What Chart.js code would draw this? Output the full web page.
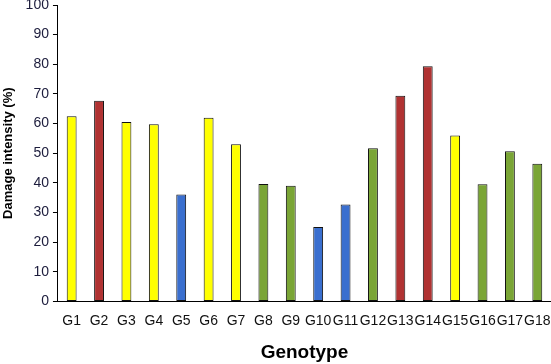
<!DOCTYPE html>
<html>
<head>
<meta charset="utf-8">
<script src="https://cdn.jsdelivr.net/npm/chart.js@4"></script>
<style>
  body { margin: 0; background: #fff; }
  #wrap { width: 551px; height: 364px; }
</style>
</head>
<body>
<div id="wrap"><canvas id="myChart"></canvas></div>
<script>
const genotypes = ['G1', 'G2', 'G3', 'G4', 'G5', 'G6', 'G7', 'G8', 'G9', 'G10', 'G11', 'G12', 'G13', 'G14', 'G15', 'G16', 'G17', 'G18'];
const damage = [62.5, 67.7, 60.5, 59.8, 36.1, 62, 53, 39.6, 39, 25.1, 32.7, 51.7, 69.4, 79.3, 56, 39.5, 50.7, 46.4];
const groups = ['y', 'r', 'y', 'y', 'b', 'y', 'y', 'g', 'g', 'b', 'b', 'g', 'r', 'r', 'y', 'g', 'g', 'g'];
const yTicks = [0, 10, 20, 30, 40, 50, 60, 70, 80, 90, 100];

const palette = { y: '#ffff00', r: '#b03232', b: '#3a6fcf', g: '#7aa536' };

function CreateChart() {
    const ctx = document.getElementById('myChart');

    new Chart(ctx, {
        type: 'bar',
        data: {
            labels: genotypes,
            datasets: [{
                label: 'Damage intensity',
                data: damage,
                backgroundColor: groups.map(g => palette[g]),
                borderColor: '#111',
                borderWidth: 1,
                borderSkipped: false,
                barPercentage: 0.36,
                categoryPercentage: 1
            }]
        },
        options: {
            responsive: true,
            maintainAspectRatio: false,
            animation: false,
            layout: {
                padding: { left: 1, right: 0, top: 0, bottom: 0 }
            },
            scales: {
                y: {
                    min: 0,
                    max: 100,
                    afterBuildTicks: axis => {
                        axis.ticks = yTicks.map(v => ({ value: v }));
                    },
                    afterFit: axis => {
                        axis.paddingTop = 5;
                    },
                    grid: {
                        drawOnChartArea: false,
                        color: '#000',
                        tickLength: 5
                    },
                    border: { color: '#000', width: 1 },
                    ticks: {
                        color: '#1c1c3c',
                        font: { family: 'Liberation Sans, Arial', size: 14 },
                        padding: 4
                    },
                    title: {
                        display: true,
                        text: 'Damage intensity (%)',
                        color: '#000',
                        font: { family: 'Liberation Sans, Arial', size: 13, weight: 'bold' },
                        padding: { top: 0, bottom: 5 }
                    }
                },
                x: {
                    afterFit: axis => {
                        axis.paddingLeft = 0;
                        axis.paddingRight = 0;
                    },
                    grid: { display: false },
                    border: { color: '#000', width: 1 },
                    ticks: {
                        color: '#111',
                        font: { family: 'Liberation Sans, Arial', size: 14 },
                        maxRotation: 0,
                        autoSkip: false,
                        padding: 3
                    },
                    title: {
                        display: true,
                        text: 'Genotype',
                        color: '#000',
                        font: { family: 'Liberation Sans, Arial', size: 19, weight: 'bold' },
                        padding: { top: 9, bottom: 0 }
                    }
                }
            },
            plugins: {
                legend: { display: false },
                tooltip: { enabled: false }
            }
        }
    });
}

CreateChart();
</script>
</body>
</html>
